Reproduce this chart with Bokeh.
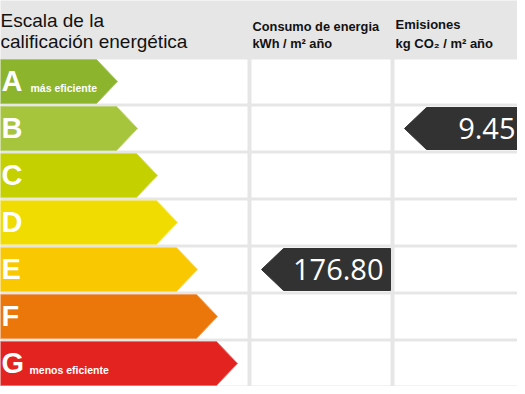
from bokeh.plotting import figure
from bokeh.models import Range1d
from bokeh.core.properties import value
from bokeh.embed import file_html
from bokeh.resources import INLINE

# ---- data ----
ratings = ["A", "B", "C", "D", "E", "F", "G"]
rating_colors = ["#8cb42c", "#a6c43c", "#c4d000", "#f0dc00", "#fac800", "#eb760a", "#e2231f"]
rating_edges = ["#a9c86a", "#bdd377", "#d6de5e", "#f6e86a", "#fcd860", "#f1a060", "#ec7070"]
rating_notes = {"A": "más eficiente", "G": "menos eficiente"}

title_lines = ["Escala de la", "calificación energética"]
col_titles = [["Consumo de energia", "kWh / m² año"], ["Emisiones", "kg CO₂ / m² año"]]
col_ratings = ["E", "B"]
col_values = [176.80, 9.45]

# ---- layout (pixel scale of the reference) ----
W, H = 517, 386
ROW_TOP0, ROW_PITCH, ROW_H = 59, 47, 44
LEFT_X0, LEFT_X1 = -10, 247
COL_X0 = [251, 394]
COL_W = 139
TIP0, TIP_STEP, DEPTH = 117, 20, 21
MARK_GAP = 10
BG = "#e6e6e6"
FONT = value("Liberation Sans")

p = figure(width=W, height=H, x_range=Range1d(0, W), y_range=Range1d(H, 0),
           output_backend="svg", toolbar_location=None, min_border=0)
p.axis.visible = False
p.grid.visible = False
p.outline_line_color = None
p.background_fill_color = BG
p.border_fill_color = BG

n = len(ratings)
tops = [ROW_TOP0 + i * ROW_PITCH for i in range(n)]
bots = [t + ROW_H for t in tops]

# white cells
cl, cr, ct, cb = [], [], [], []
for i in range(n):
    for x0, x1 in [(LEFT_X0, LEFT_X1)] + [(c, c + COL_W) for c in COL_X0]:
        cl.append(x0); cr.append(x1); ct.append(tops[i]); cb.append(bots[i])
p.quad(left=cl, right=cr, top=ct, bottom=cb, fill_color="white", line_color=None)

# rating arrows
xs, ys = [], []
for i in range(n):
    tip = TIP0 + i * TIP_STEP
    mid = (tops[i] + bots[i]) / 2
    xs.append([LEFT_X0, tip - DEPTH, tip, tip - DEPTH, LEFT_X0])
    ys.append([tops[i], tops[i], mid, bots[i], bots[i]])
p.patches(xs=xs, ys=ys, fill_color=rating_colors, line_color=rating_edges, line_width=1)

# rating letters (y = centre of capitals)
p.text(x=[1] * n, y=[t + 21 for t in tops], text=ratings, text_color="white",
       text_font=FONT, text_font_style="bold", text_font_size="29px",
       text_baseline="middle", text_align="left")
note_idx = [ratings.index(k) for k in rating_notes]
p.text(x=[30, 29], y=[tops[i] + 28 for i in note_idx], text=list(rating_notes.values()),
       text_color="white", text_font=FONT, text_font_style="bold", text_font_size="10.5px",
       text_baseline="middle", text_align="left")

# titles
p.text(x=[0, 0], y=[20, 40.5], text=title_lines, text_color="#111111", text_font=FONT,
       text_font_size="19px", text_baseline="middle")
p.text(x=[COL_X0[0] + 1, COL_X0[0] + 1], y=[26, 42.5], text=col_titles[0], text_color="#111111",
       text_font=FONT, text_font_style="bold", text_font_size="12.8px", text_baseline="middle")
p.text(x=[COL_X0[1] + 1, COL_X0[1] + 1], y=[24, 42.5], text=col_titles[1], text_color="#111111",
       text_font=FONT, text_font_style="bold", text_font_size="13px", text_baseline="middle")

# value markers
mx, my, tx, ty, tt = [], [], [], [], []
for c, (r, v) in enumerate(zip(col_ratings, col_values)):
    i = ratings.index(r)
    x0 = COL_X0[c] + MARK_GAP
    x1 = COL_X0[c] + COL_W
    t, b = tops[i] + 1, bots[i] - 1
    mid = (t + b) / 2
    mx.append([x0, x0 + DEPTH + 1, x1, x1, x0 + DEPTH + 1])
    my.append([mid, t, t, b, b])
    tx.append(min(x1 - 7, W - 2)); ty.append(tops[i] + 22); tt.append(f"{v:.2f}")
p.patches(xs=mx, ys=my, fill_color="#323232", line_color="#323232", line_width=1)
p.text(x=tx, y=ty, text=tt, text_color="white", text_font=value("Open Sans"),
       text_font_size="29px", text_align="right", text_baseline="middle")

open("out.html", "w").write(file_html(p, INLINE))
